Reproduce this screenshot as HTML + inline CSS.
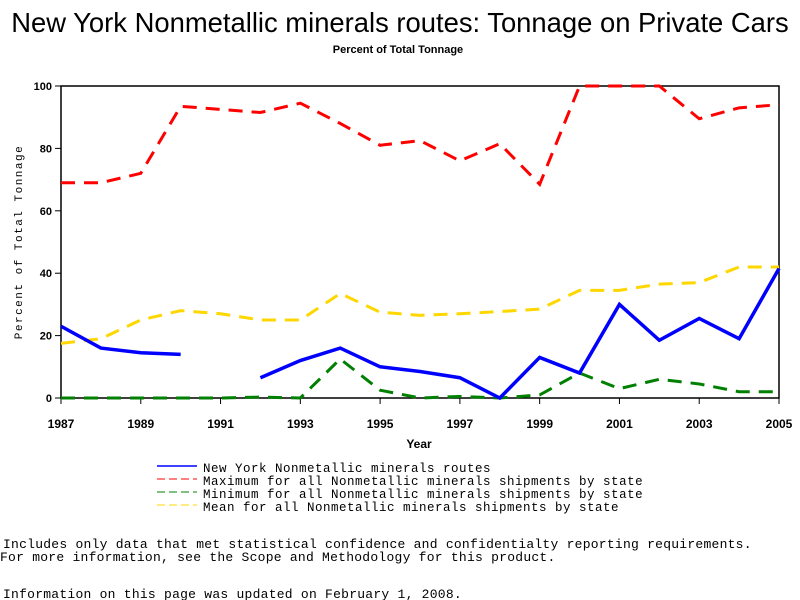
<!DOCTYPE html>
<html><head><meta charset="utf-8"><style>
body{margin:0;background:#fff;width:800px;height:600px;overflow:hidden}
svg{display:block}
.m{font-family:"Liberation Mono",monospace}
</style></head><body>
<svg width="800" height="600">
<text x="400" y="32" text-anchor="middle" font-family="Liberation Sans,sans-serif" font-size="27.4">New York Nonmetallic minerals routes: Tonnage on Private Cars</text>
<text x="398" y="53" text-anchor="middle" font-family="Liberation Sans,sans-serif" font-size="11" font-weight="bold">Percent of Total Tonnage</text>
<g id="axes"></g>
<g id="marks"></g>
<text x="419" y="448" text-anchor="middle" font-family="Liberation Sans,sans-serif" font-size="12" font-weight="bold">Year</text>
<text transform="translate(22,242) rotate(-90)" text-anchor="middle" class="m" font-size="11" letter-spacing="1.5">Percent of Total Tonnage</text>
<g class="m" font-size="12.5" letter-spacing="0.5">
<line x1="157" y1="466" x2="197" y2="466" stroke="#0000ff" stroke-width="1.5"/>
<text x="203" y="472">New York Nonmetallic minerals routes</text>
<line x1="157" y1="479" x2="197" y2="479" stroke="#ff0000" stroke-dasharray="8,4"/>
<text x="203" y="485">Maximum for all Nonmetallic minerals shipments by state</text>
<line x1="157" y1="492" x2="197" y2="492" stroke="#008000" stroke-dasharray="8,4"/>
<text x="203" y="498">Minimum for all Nonmetallic minerals shipments by state</text>
<line x1="157" y1="505" x2="197" y2="505" stroke="#ffd700" stroke-dasharray="8,4"/>
<text x="203" y="511">Mean for all Nonmetallic minerals shipments by state</text>
</g>
<g class="m" font-size="13" letter-spacing="0.25">
<text x="3" y="548">Includes only data that met statistical confidence and confidentialty reporting requirements.</text>
<text x="0" y="561">For more information, see the Scope and Methodology for this product.</text>
<text x="3" y="598">Information on this page was updated on February 1, 2008.</text>
</g>
</svg>
<script>
const years=[1987,1988,1989,1990,1991,1992,1993,1994,1995,1996,1997,1998,1999,2000,2001,2002,2003,2004,2005];
const nyVals=[23,16,14.5,14,null,6.5,12,16,10,8.5,6.5,0,13,8,30,18.5,25.5,19,41.5];
const maxVals=[69,69,72,93.5,92.5,91.5,94.5,88,81,82.5,76,81.5,68.5,100,100,100,89.5,93,94];
const minVals=[0,0,0,0,0,0.3,0,12.5,2.5,0,0.5,0,1,8,3,6,4.5,2,2];
const meanVals=[17.5,19,25,28,27,25,25,33.5,27.5,26.5,27,27.7,28.5,34.5,34.5,36.5,37,42,42];
const yTicks=[0,20,40,60,80,100];
const xTickYears=[1987,1989,1991,1993,1995,1997,1999,2001,2003,2005];
const L=61,R=779,T=86,B=398;
const xs=y=>L+(y-1987)/(2005-1987)*(R-L);
const ys=v=>B-v/100*(B-T);
const NS="http://www.w3.org/2000/svg";
function mk(t,a,p){const e=document.createElementNS(NS,t);for(const k in a)e.setAttribute(k,a[k]);p.appendChild(e);return e;}
const ax=document.getElementById('axes'),mg=document.getElementById('marks');
const fr=mk('rect',{x:L,y:T,width:R-L,height:B-T,fill:'none',stroke:'#000','stroke-width':1.5},ax);


yTicks.forEach(v=>{
 const l=mk('line',{x1:L-6,x2:L,y1:ys(v),y2:ys(v),stroke:'#000'},ax);
 
 
 const t=mk('text',{x:L-9,y:ys(v)+4,'text-anchor':'end','font-family':'Liberation Sans,sans-serif','font-size':11,'font-weight':'bold'},ax);
 t.textContent=v;
 
 
});
xTickYears.forEach(y=>{
 const l=mk('line',{x1:xs(y),x2:xs(y),y1:B,y2:B+6,stroke:'#000'},ax);
 
 
 const t=mk('text',{x:xs(y),y:B+30,'text-anchor':'middle','font-family':'Liberation Sans,sans-serif','font-size':12,'font-weight':'bold'},ax);
 t.textContent=y;
 
 
});
function series(vals,color,w,dash,name){
 let segs=[],cur=[];
 vals.forEach((v,i)=>{if(v==null){if(cur.length)segs.push(cur);cur=[];}else cur.push(xs(years[i])+','+ys(v));});
 if(cur.length)segs.push(cur);
 segs.forEach(s=>{
  const p=mk('polyline',{points:s.join(' '),fill:'none',stroke:color,'stroke-width':w,'stroke-dasharray':dash||'none'},mg);
  
  
 });
}
series(maxVals,'#ff0000',3,'14,9','max-series-line');
series(meanVals,'#ffd700',3,'14,9','mean-series-line');
series(minVals,'#008000',3,'14,9','min-series-line');
series(nyVals,'#0000ff',3.5,null,'ny-series-line');
</script>
</body></html>
